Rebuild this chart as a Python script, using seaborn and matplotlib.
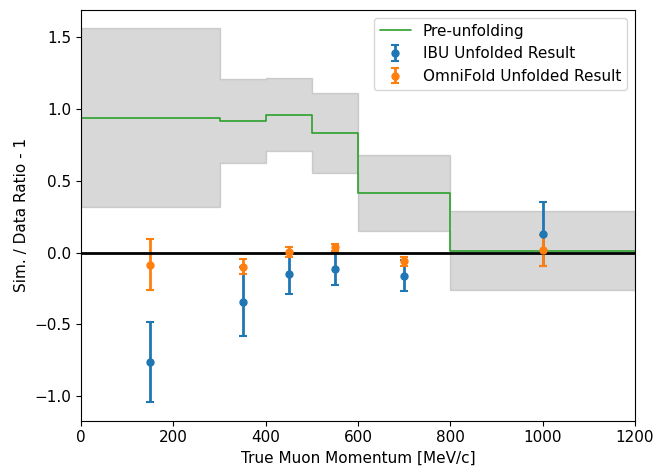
import numpy as np
import pandas as pd
import matplotlib
matplotlib.use('Agg')
import matplotlib.pyplot as plt
import seaborn as sns

# bin edges of the true muon momentum [MeV/c]
bin_edges = [0, 300, 400, 500, 600, 800, 1200]
bin_centers = [150, 350, 450, 550, 700, 1000]

# pre-unfolding ratio and its uncertainty band
pre_unfold = [0.935, 0.919, 0.961, 0.831, 0.415, 0.012]
band_high = [1.567, 1.208, 1.213, 1.113, 0.680, 0.287]
band_low = [0.315, 0.627, 0.708, 0.553, 0.148, -0.262]

# unfolded results
ibu_vals = [-0.76, -0.343, -0.146, -0.113, -0.16, 0.13]
ibu_errs = [0.28, 0.24, 0.14, 0.115, 0.11, 0.222]
omni_vals = [-0.083, -0.097, 0.005, 0.037, -0.06, 0.015]
omni_errs = [0.175, 0.053, 0.037, 0.025, 0.03, 0.108]

sns.set_style('ticks')
plt.rcParams.update({'font.size': 11, 'text.color': 'black', 'axes.labelcolor': 'black',
                     'xtick.color': 'black', 'ytick.color': 'black'})
fig, ax = plt.subplots(figsize=(6.54, 4.7), dpi=100)

step_df = pd.DataFrame({'x': bin_edges, 'y': pre_unfold + [pre_unfold[-1]]})
ax.fill_between(bin_edges, band_low + [band_low[-1]], band_high + [band_high[-1]],
                step='post', color='gray', alpha=0.3)
sns.lineplot(data=step_df, x='x', y='y', drawstyle='steps-post', color='tab:green',
             lw=1.2, label='Pre-unfolding', ax=ax)

ax.errorbar(bin_centers, ibu_vals, yerr=ibu_errs, fmt='o', color='tab:blue',
            markersize=5, elinewidth=2, capsize=3, capthick=1.5, label='IBU Unfolded Result')
ax.errorbar(bin_centers, omni_vals, yerr=omni_errs, fmt='o', color='tab:orange',
            markersize=5, elinewidth=2, capsize=3, capthick=1.5, label='OmniFold Unfolded Result')
ax.axhline(0, color='black', lw=2)

ax.set_xlim(0, 1200)
ax.set_ylim(-1.17, 1.69)
ax.set_xlabel('True Muon Momentum [MeV/c]')
ax.set_ylabel('Sim. / Data Ratio - 1')
ax.legend(loc='upper right')
for s in ax.spines.values():
    s.set_color('black')

fig.subplots_adjust(left=0.124, right=0.971, top=0.979, bottom=0.105)
fig.savefig('out.png', dpi=100)
